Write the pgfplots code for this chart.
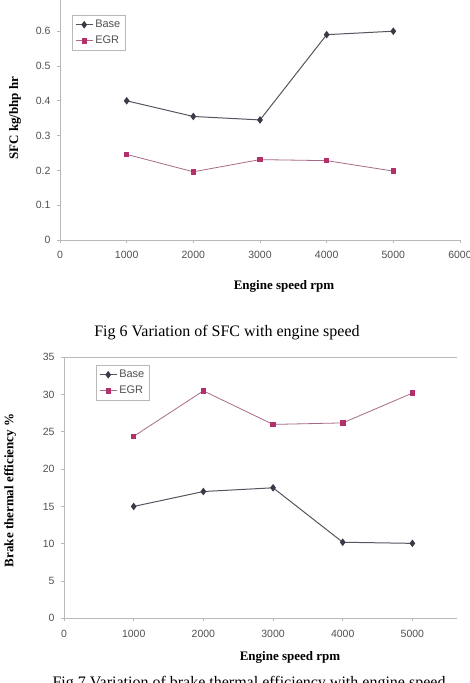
\documentclass[border=0pt]{standalone}
\usepackage{fontspec}
\setmainfont{Liberation Serif}
\newfontfamily\arialfont{Liberation Sans}
\usepackage{pgfplots}
\pgfplotsset{compat=1.18}

\definecolor{basemark}{HTML}{3A3A48}
\definecolor{baseline}{HTML}{555560}
\definecolor{egrmark}{HTML}{B4306A}
\definecolor{egrline}{HTML}{A86A88}
\definecolor{axisgray}{HTML}{B8B8B8}
\definecolor{ticktext}{HTML}{505050}

\pgfplotsset{
  excelstyle/.style={
    scale only axis,
    axis x line*=bottom, axis y line*=left,
    axis line style={draw=axisgray, line width=0.8pt},
    every tick/.style={draw=axisgray, line width=0.8pt},
    tick align=outside, major tick length=3pt,
    ticklabel style={font=\arialfont\fontsize{10.5}{12}\selectfont, text=ticktext},
    xticklabel style={yshift=-5pt},
    yticklabel style={xshift=-3pt},
    /pgf/number format/assume math mode=true,
    /pgf/number format/1000 sep={},
    label style={font=\bfseries\fontsize{13}{15}\selectfont},
    legend cell align=left,
    legend style={draw=axisgray, fill=white, anchor=north west,
      font=\arialfont\fontsize{11}{13}\selectfont, text=ticktext,
      inner xsep=3pt, inner ysep=3pt, row sep=3pt},
  },
  baseplot/.style={color=baseline, line width=1pt, mark=diamond*, mark size=3pt,
    mark options={fill=basemark, draw=basemark}},
  egrplot/.style={color=egrline, line width=0.8pt, mark=square*, mark size=2.2pt,
    mark options={fill=egrmark, draw=egrmark}},
}

\begin{document}
\begin{tikzpicture}

% Fig 6: specific fuel consumption
\begin{axis}[excelstyle,
  at={(60pt,443pt)}, anchor=south west,
  width=400pt, height=243.6pt,
  xmin=0, xmax=6000, ymin=0, ymax=0.7,
  xtick={0,1000,2000,3000,4000,5000,6000},
  ytick={0,0.1,0.2,0.3,0.4,0.5,0.6,0.7},
  xlabel={Engine speed rpm},
  ylabel={SFC kg/bhp hr},
  xlabel style={at={(axis description cs:0.56,-0.189)}, anchor=center},
  ylabel style={at={(axis description cs:-0.1125,0.5)}, anchor=center},
  legend style={at={(axis description cs:0.03,0.9236)}},
]
\addplot[baseplot] coordinates {(1000,0.400) (2000,0.355) (3000,0.345) (4000,0.590) (5000,0.600)};
\addlegendentry{Base}
\addplot[egrplot] coordinates {(1000,0.246) (2000,0.196) (3000,0.231) (4000,0.228) (5000,0.198)};
\addlegendentry{EGR}
\draw[axisgray, line width=0.8pt] (rel axis cs:1,0) -- (rel axis cs:1,1);
\end{axis}

\node[anchor=base, font=\fontsize{16}{19}\selectfont] at (227pt,346.3pt)
  {Fig 6 Variation of SFC with engine speed};

% Fig 7: brake thermal efficiency
\begin{axis}[excelstyle,
  at={(64pt,64.7pt)}, anchor=south west,
  width=393pt, height=261pt,
  xmin=0, xmax=5640, ymin=0, ymax=35,
  xtick={0,1000,2000,3000,4000,5000},
  ytick={0,5,10,15,20,25,30,35},
  xlabel={Engine speed rpm},
  ylabel={Brake thermal efficiency \%},
  xlabel style={at={(axis description cs:0.575,-0.148)}, anchor=center},
  ylabel style={at={(axis description cs:-0.137,0.49)}, anchor=center},
  legend style={at={(axis description cs:0.0814,0.9705)}},
]
\addplot[baseplot] coordinates {(1000,15.0) (2000,17.0) (3000,17.5) (4000,10.2) (5000,10.05)};
\addlegendentry{Base}
\addplot[egrplot] coordinates {(1000,24.4) (2000,30.5) (3000,26.0) (4000,26.2) (5000,30.2)};
\addlegendentry{EGR}
\draw[axisgray, line width=0.8pt] (rel axis cs:0,1) -- (rel axis cs:1,1);
\end{axis}

\node[anchor=base, font=\fontsize{16}{19}\selectfont] at (249pt,-4.6pt)
  {Fig 7 Variation of brake thermal efficiency with engine speed};

\pgfresetboundingbox
\useasboundingbox (0pt,0pt) rectangle (469pt,683pt);
\end{tikzpicture}
\end{document}
